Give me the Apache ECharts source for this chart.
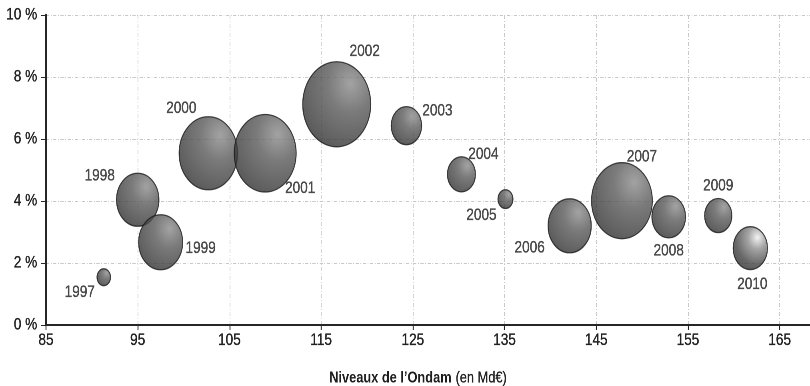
<!DOCTYPE html>
<html>
<head>
<meta charset="utf-8">
<script src="https://cdn.jsdelivr.net/npm/echarts@6/dist/echarts.min.js"></script>
<style>
  html, body { margin: 0; padding: 0; background: #fff; overflow: hidden; width: 810px; height: 386px; }
  /* The chart is laid out wide and compressed horizontally: round bubbles
     become upright ellipses and the lettering gets a condensed look. */
  #chart { width: 1012.5px; height: 386px; transform: scaleX(0.8); transform-origin: 0 0; }
</style>
</head>
<body>
<div id="chart"></div>
<script>
// Ondam level (Md€), growth rate (%) and bubble measure (Md€) per year
const years = ['1997', '1998', '1999', '2000', '2001', '2002', '2003', '2004', '2005', '2006', '2007', '2008', '2009', '2010'];
const ondamLevels = [91.3, 95.0, 97.5, 102.7, 108.9, 116.7, 124.3, 130.3, 135.1, 142.1, 147.8, 152.9, 158.3, 161.8];
const growthRates = [1.54, 4.04, 2.67, 5.54, 5.54, 7.12, 6.43, 4.86, 4.06, 3.20, 4.01, 3.49, 3.53, 2.48];
const bubbleValues = [0.13, 1.28, 1.38, 2.43, 2.74, 3.30, 0.66, 0.56, 0.16, 1.33, 2.64, 0.81, 0.53, 0.84];
const xTicks = [85, 95, 105, 115, 125, 135, 145, 155, 165];
const yTicks = [0, 2, 4, 6, 8, 10];

const SQUEEZE = 0.8;      // horizontal compression applied to the chart box

// Label placement around each bubble (on-screen pixel offset from the centre)
const labelOffsets = {
  '1997': [-24, 15], '1998': [-38, -24], '1999': [40, 6], '2000': [-27, -45],
  '2001': [35, 35], '2002': [28, -53], '2003': [31, -15], '2004': [22, -20],
  '2005': [-24, 16], '2006': [-40, 22], '2007': [20, -44], '2008': [0, 34],
  '2009': [0, -30], '2010': [2, 36]
};

const FONT = '"Liberation Sans", Arial, sans-serif';
const INK = '#222';
const SIZE_K = 46.8;      // bubble diameter per sqrt(Md€)

function bubbleFill(light) {
  return new echarts.graphic.RadialGradient(0.7, 0.26, 0.95, light ? [
    { offset: 0, color: '#f0f0f0' },
    { offset: 0.28, color: '#8e8e8e' },
    { offset: 0.65, color: '#424242' },
    { offset: 1, color: '#242424' }
  ] : [
    { offset: 0, color: '#8c8c8c' },
    { offset: 0.35, color: '#5a5a5a' },
    { offset: 0.72, color: '#3c3c3c' },
    { offset: 1, color: '#242424' }
  ]);
}

const points = years.map((y, i) => ({
  name: y,
  value: [ondamLevels[i], growthRates[i], bubbleValues[i]],
  itemStyle: { color: bubbleFill(y === '2010') },
  label: { offset: [labelOffsets[y][0] / SQUEEZE, labelOffsets[y][1]] }
}));

// Shared text look: slightly heavier strokes than the plain regular weight
const ink = { color: INK, fontSize: 17, fontFamily: FONT, textBorderColor: INK, textBorderWidth: 0.35 };

const gridLine = { color: '#c8c8c8', width: 1, type: [4, 2, 1, 2] };
const axisDark = '#262626';

const chart = echarts.init(document.getElementById('chart'), null, { renderer: 'canvas', devicePixelRatio: 2 });
chart.setOption({
  animation: false,
  backgroundColor: '#fff',
  textStyle: { fontFamily: FONT },
  grid: { left: 46 / SQUEEZE, right: 0, top: 15, bottom: 61, containLabel: false },
  title: {
    left: 414 / SQUEEZE, top: 364, textAlign: 'center',
    text: '{b|Niveaux de l’Ondam} {n|(en Md€)}',
    textStyle: {
      fontWeight: 'normal',
      rich: {
        b: { fontFamily: FONT, fontSize: 16, fontWeight: 'bold', color: '#1e1e1e' },
        n: { fontFamily: FONT, fontSize: 16, fontWeight: 'normal', color: INK, textBorderColor: INK, textBorderWidth: 0.3 }
      }
    }
  },
  xAxis: {
    type: 'value', min: 85, max: 168.35, interval: 10,
    axisLine: { show: true, lineStyle: { color: axisDark, width: 2 } },
    axisTick: { show: true, length: 5, lineStyle: { color: axisDark, width: 1.2 } },
    axisLabel: Object.assign({}, ink, {
      margin: 7,
      showMaxLabel: false,
      formatter: v => (xTicks.indexOf(v) >= 0 ? String(v) : '')
    }),
    splitLine: { show: true, lineStyle: gridLine }
  },
  yAxis: {
    type: 'value', min: 0, max: 10, interval: 2,
    axisLine: { show: true, lineStyle: { color: axisDark, width: 2.5 } },
    axisTick: { show: true, length: 6, lineStyle: { color: axisDark, width: 1 } },
    axisLabel: Object.assign({}, ink, {
      margin: 11,
      formatter: v => (yTicks.indexOf(v) >= 0 ? v + ' %' : '')
    }),
    splitLine: { show: true, lineStyle: gridLine }
  },
  series: [{
    type: 'scatter',
    data: points,
    symbol: 'circle',
    symbolSize: v => SIZE_K * Math.sqrt(v[2]),
    itemStyle: { borderColor: '#1a1a1a', borderWidth: 1.3 },
    label: Object.assign({}, ink, {
      show: true, position: 'inside',
      formatter: p => p.name
    }),
    emphasis: { disabled: true }
  }]
});
</script>
</body>
</html>
